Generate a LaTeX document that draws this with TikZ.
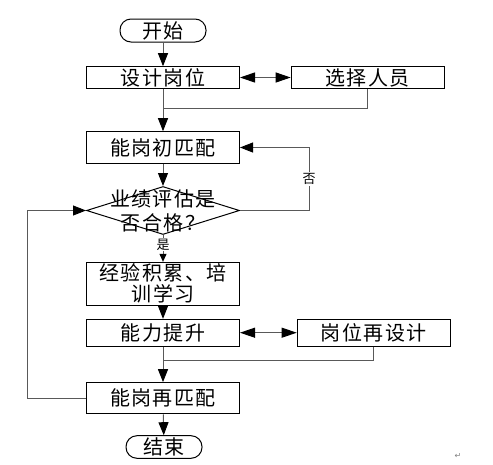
\documentclass[tikz,border=0pt]{standalone}
\usepackage{fontspec}
\usepackage{tikz}
\usetikzlibrary{shapes.geometric,arrows.meta}
\newfontfamily\cjk[LetterSpace=7]{Noto Sans CJK SC}
\newfontfamily\symfont{DejaVu Sans}

\begin{document}
\begin{tikzpicture}[x=1pt, y=-1pt,
        box/.style={draw, line width=1pt, minimum width=153pt, inner sep=0pt, font=\cjk\fontsize{20}{21}\selectfont},
        term/.style={box, rounded corners=11pt},
        judge/.style={diamond, draw, line width=1pt, minimum width=153pt, minimum height=48pt, inner sep=0pt},
        jtext/.style={align=center, inner sep=0pt, font=\cjk\fontsize{20}{24}\selectfont},
        tag/.style={fill=white, inner sep=1pt, font=\cjk\fontsize{13}{13}\selectfont},
        line/.style={draw=black!65, line width=1pt},
        flow/.style={line, -{Triangle[length=13pt, width=10pt, color=black]}},
        twoway/.style={line, {Triangle[length=15pt, width=10pt, color=black]}-{Triangle[length=15pt, width=10pt, color=black]}}]
                        \useasboundingbox (0,0) rectangle (493,464);

                        \node[term, minimum width=86pt, minimum height=23pt] (start) at (163,30.5) {开始};
                        \node[box, minimum height=21.6pt] (design) at (163,77.5) {设计岗位};
                        \node[box, minimum height=21.6pt] (select) at (367.7,77.5) {选择人员};
                        \node[box, minimum height=31.6pt] (match1) at (163,147.5) {能岗初匹配};
                        \node[judge] (judge) at (163,210.5) {};
                        \node[jtext] (judgetext) at (judge) {业绩评估是\\否合格？};
                        \node[box, minimum height=42.7pt, align=center] (learn) at (163,283.7) {经验积累、培\\训学习};
                        \node[box, minimum height=26.7pt] (rise) at (163,332.7) {能力提升};
                        \node[box, minimum height=26.7pt] (redesign) at (373.7,332.7) {岗位再设计};
                        \node[box, minimum height=31.3pt] (match2) at (163,398.3) {能岗再匹配};
                        \node[term, minimum width=76pt, minimum height=22.6pt] (end) at (164,447) {结束};
                        \node[font=\symfont\fontsize{8}{8}\selectfont, text=gray] (mark) at (458,456) {↵};

                        \coordinate (join1) at (163,108);
                        \coordinate (noturn) at (309,210.5);
                        \coordinate (join2) at (163,360);
                        \coordinate (back) at (27,398.3);

                        \draw[flow] (start) -- (design);
                        \draw[twoway] (design) -- (select);
                        \draw[line] (select.south) |- (join1);
                        \draw[flow] (design) -- (match1);
                        \draw[flow] (match1) -- (judge);
                        \draw[flow] (judge.east) -- (noturn) |- node[pos=0.25, tag]{否} (match1.east);
                        \draw[flow, -{Triangle[length=8pt, width=7pt, color=black]}] (judge) -- node[pos=0.35, tag]{是} (learn);
                        \draw[flow] (learn) -- (rise);
                        \draw[twoway] (rise) -- (redesign);
                        \draw[line] (redesign.south) |- (join2);
                        \draw[flow] (rise) -- (match2);
                        \draw[flow] (match2) -- (end);
                        \draw[flow] (match2.west) -- (back) |- (judge.west);
                    \end{tikzpicture}
\end{document}
